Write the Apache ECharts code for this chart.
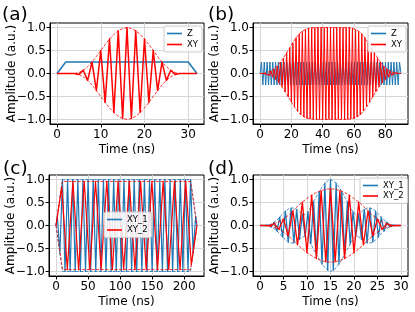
<!DOCTYPE html>
<html><head><meta charset="utf-8">
<script src="https://cdn.jsdelivr.net/npm/echarts@6/dist/echarts.min.js"></script>
<style>html,body{margin:0;padding:0;background:#fff}#c{width:415px;height:312px}</style>
</head><body><div id="c"></div>
<script>
// ---------- Panel (a) ----------
const aZTime = [0, 2, 30, 32];
const aZ = [0, 0.25, 0.25, 0];
const aXYTime = [0,1,2,3,4,5,6,7,8,9,10,11,12,13,14,15,16,17,18,19,20,21,22,23,24,25,26,27,28,29,30,31,32];
const aXY = [0,0,0,0,0,-0.02,0.07,-0.15,0.25,-0.37,0.5,-0.63,0.75,-0.85,0.93,-0.98,1.0,-0.98,0.93,-0.85,0.75,-0.63,0.5,-0.37,0.25,-0.15,0.07,-0.02,0,0,0,0,0];
const aEnvTime = [4,5,6,7,8,9,10,11,12,13,14,15,16,17,18,19,20,21,22,23,24,25,26,27,28];
const aEnvUp = [0,0.02,0.07,0.15,0.25,0.37,0.5,0.63,0.75,0.85,0.93,0.98,1.0,0.98,0.93,0.85,0.75,0.63,0.5,0.37,0.25,0.15,0.07,0.02,0];
const aEnvLo = [0,-0.02,-0.07,-0.15,-0.25,-0.37,-0.5,-0.63,-0.75,-0.85,-0.93,-0.98,-1.0,-0.98,-0.93,-0.85,-0.75,-0.63,-0.5,-0.37,-0.25,-0.15,-0.07,-0.02,0];
const aXTicks = [0, 10, 20, 30];

// ---------- Panel (b) ----------
const bZTime = [0,0.9,1.8,2.7,3.6,4.5,5.4,6.3,7.2,8.1,9,9.9,10.8,11.7,12.6,13.5,14.4,15.3,16.2,17.1,18,18.9,19.8,20.7,21.6,22.5,23.4,24.3,25.2,26.1,27,27.9,28.8,29.7,30.6,31.5,32.4,33.3,34.2,35.1,36,36.9,37.8,38.7,39.6,40.5,41.4,42.3,43.2,44.1,45,45.9,46.8,47.7,48.6,49.5,50.4,51.3,52.2,53.1,54,54.9,55.8,56.7,57.6,58.5,59.4,60.3,61.2,62.1,63,63.9,64.8,65.7,66.6,67.5,68.4,69.3,70.2,71.1,72,72.9,73.8,74.7,75.6,76.5,77.4,78.3,79.2,80.1,81,81.9,82.8,83.7,84.6,85.5,86.4,87.3,88.2,89.1,90];
const bZ = [0,0.25,-0.25,0.25,-0.25,0.25,-0.25,0.25,-0.25,0.25,-0.25,0.25,-0.25,0.25,-0.25,0.25,-0.25,0.25,-0.25,0.25,-0.25,0.25,-0.25,0.25,-0.25,0.25,-0.25,0.25,-0.25,0.25,-0.25,0.25,-0.25,0.25,-0.25,0.25,-0.25,0.25,-0.25,0.25,-0.25,0.25,-0.25,0.25,-0.25,0.25,-0.25,0.25,-0.25,0.25,-0.25,0.25,-0.25,0.25,-0.25,0.25,-0.25,0.25,-0.25,0.25,-0.25,0.25,-0.25,0.25,-0.25,0.25,-0.25,0.25,-0.25,0.25,-0.25,0.25,-0.25,0.25,-0.25,0.25,-0.25,0.25,-0.25,0.25,-0.25,0.25,-0.25,0.25,-0.25,0.25,-0.25,0.25,-0.25,0.25,-0.25,0.25,-0.25,0.25,-0.25,0.25,-0.25,0.25,-0.25,0.25,0];
const bXYTime = [0,1,2,3,4,5,6,7,8,9,10,11,12,13,14,15,16,17,18,19,20,21,22,23,24,25,26,27,28,29,30,31,32,33,34,35,36,37,38,39,40,41,42,43,44,45,46,47,48,49,50,51,52,53,54,55,56,57,58,59,60,61,62,63,64,65,66,67,68,69,70,71,72,73,74,75,76,77,78,79,80,81,82,83,84,85,86,87,88,89,90];
const bXY = [0,0,0,0.01,-0.01,0.02,-0.04,0.055,-0.075,0.1,-0.13,0.16,-0.2,0.245,-0.29,0.34,-0.4,0.45,-0.51,0.56,-0.62,0.67,-0.73,0.78,-0.82,0.86,-0.9,0.92,-0.95,0.96,-0.98,0.99,-0.99,1,-1,1,-1,1,-1,1,-1,1,-1,1,-1,1,-1,1,-1,1,-1,1,-1,1,-1,1,-1,1,-0.99,0.99,-0.98,0.96,-0.95,0.92,-0.9,0.86,-0.82,0.78,-0.73,0.67,-0.62,0.56,-0.51,0.45,-0.4,0.34,-0.29,0.245,-0.2,0.16,-0.13,0.1,-0.075,0.055,-0.04,0.02,-0.01,0.01,0,0,0];
const bEnvTime = [2,5,8,11,14,17,20,23,26,29,32,35,45,55,58,61,64,67,70,73,76,79,82,85,88];
const bEnvUp = [0,0.025,0.075,0.16,0.29,0.45,0.62,0.78,0.9,0.96,0.99,1.0,1.0,1.0,0.99,0.96,0.9,0.78,0.62,0.45,0.29,0.16,0.075,0.025,0];
const bEnvLo = [0,-0.025,-0.075,-0.16,-0.29,-0.45,-0.62,-0.78,-0.9,-0.96,-0.99,-1.0,-1.0,-1.0,-0.99,-0.96,-0.9,-0.78,-0.62,-0.45,-0.29,-0.16,-0.075,-0.025,0];
const bXTicks = [0, 20, 40, 60, 80];

// ---------- Panel (c) ----------
const cXY1Time = [0,2,6,10,14,18,22,26,30,34,38,42,46,50,54,58,62,66,70,74,78,82,86,90,94,98,102,106,110,114,118,122,126,130,134,138,142,146,150,154,158,162,166,170,174,178,182,186,190,194,198,202,206,210,214,218,220];
const cXY1 = [0,0.2,-0.6,1,-1,1,-1,1,-1,1,-1,1,-1,1,-1,1,-1,1,-1,1,-1,1,-1,1,-1,1,-1,1,-1,1,-1,1,-1,1,-1,1,-1,1,-1,1,-1,1,-1,1,-1,1,-1,1,-1,1,-1,1,-1,1,-0.6,0.2,0];
const cXY2Time = [0,8.8,17.6,26.4,35.2,44,52.8,61.6,70.4,79.2,88,96.8,105.6,114.4,123.2,132,140.8,149.6,158.4,167.2,176,184.8,193.6,202.4,211.2,220];
const cXY2 = [0,0.85,-0.96,0.96,-0.96,0.96,-0.96,0.96,-0.96,0.96,-0.96,0.96,-0.96,0.96,-0.96,0.96,-0.96,0.96,-0.96,0.96,-0.96,0.96,-0.96,0.96,-0.85,0];
const cEnvTime = [0, 10, 210, 220];
const cEnv1Up = [0, 1, 1, 0];
const cEnv1Lo = [0, -1, -1, 0];
const cEnv2Up = [0, 0.96, 0.96, 0];
const cEnv2Lo = [0, -0.96, -0.96, 0];
const cXTicks = [0, 50, 100, 150, 200];

// ---------- Panel (d) ----------
const dXY1Time = [0,0.6,1.2,1.8,2.4,3,3.6,4.2,4.8,5.4,6,6.6,7.2,7.8,8.4,9,9.6,10.2,10.8,11.4,12,12.6,13.2,13.8,14.4,15,15.6,16.2,16.8,17.4,18,18.6,19.2,19.8,20.4,21,21.6,22.2,22.8,23.4,24,24.6,25.2,25.8,26.4,27,27.6,28.2,28.8,29.4,30];
const dXY1 = [0,0,0,0.01,-0.03,0.07,-0.12,0.18,-0.25,0.31,-0.36,0.38,-0.38,0.35,-0.3,0.25,-0.24,0.3,-0.4,0.52,-0.63,0.74,-0.84,0.92,-0.97,1.0,-0.97,0.92,-0.84,0.74,-0.63,0.52,-0.4,0.3,-0.24,0.25,-0.3,0.35,-0.38,0.38,-0.36,0.31,-0.25,0.18,-0.12,0.07,-0.03,0.01,0,0,0];
const dEnv1Up = [0,0,0,0.01,0.03,0.07,0.12,0.18,0.25,0.31,0.36,0.38,0.38,0.35,0.3,0.25,0.24,0.3,0.4,0.52,0.63,0.74,0.84,0.92,0.97,1.0,0.97,0.92,0.84,0.74,0.63,0.52,0.4,0.3,0.24,0.25,0.3,0.35,0.38,0.38,0.36,0.31,0.25,0.18,0.12,0.07,0.03,0.01,0,0,0];
const dEnv1Lo = [0,0,0,-0.01,-0.03,-0.07,-0.12,-0.18,-0.25,-0.31,-0.36,-0.38,-0.38,-0.35,-0.3,-0.25,-0.24,-0.3,-0.4,-0.52,-0.63,-0.74,-0.84,-0.92,-0.97,-1.0,-0.97,-0.92,-0.84,-0.74,-0.63,-0.52,-0.4,-0.3,-0.24,-0.25,-0.3,-0.35,-0.38,-0.38,-0.36,-0.31,-0.25,-0.18,-0.12,-0.07,-0.03,-0.01,0,0,0];
const dXY2Time = [0,1,2,3,4,5,6,7,8,9,10,11,12,13,14,15,16,17,18,19,20,21,22,23,24,25,26,27,28,29,30];
const dXY2 = [0,0,-0.01,0.04,-0.08,0.14,-0.22,0.32,-0.42,0.51,-0.59,0.66,-0.72,0.76,-0.79,0.8,-0.79,0.76,-0.72,0.66,-0.59,0.51,-0.42,0.32,-0.22,0.14,-0.08,0.04,-0.01,0,0];
const dEnv2Up = [0,0,0.01,0.04,0.08,0.14,0.22,0.32,0.42,0.51,0.59,0.66,0.72,0.76,0.79,0.8,0.79,0.76,0.72,0.66,0.59,0.51,0.42,0.32,0.22,0.14,0.08,0.04,0.01,0,0];
const dEnv2Lo = [0,0,-0.01,-0.04,-0.08,-0.14,-0.22,-0.32,-0.42,-0.51,-0.59,-0.66,-0.72,-0.76,-0.79,-0.8,-0.79,-0.76,-0.72,-0.66,-0.59,-0.51,-0.42,-0.32,-0.22,-0.14,-0.08,-0.04,-0.01,0,0];
const dXTicks = [0, 5, 10, 15, 20, 25, 30];

const yTicks = [-1, -0.5, 0, 0.5, 1];

// ---------- build ----------
const BLUE = '#1f77b4', RED = '#ff0000';
const FONT = 'DejaVu Sans';
const pts = (xs, ys) => xs.map((x, i) => [x, ys[i]]);

const grids = [
  {left: 50, top: 23, width: 154, height: 101},
  {left: 253, top: 23, width: 155, height: 101},
  {left: 49, top: 175, width: 155, height: 101},
  {left: 253, top: 175, width: 155, height: 101}
].map(g => Object.assign(g, {show: true, borderColor: '#000', borderWidth: 1, backgroundColor: '#fff', containLabel: false}));

function xAx(gi, min, max, ticks) {
  return {
    type: 'value', gridIndex: gi, min: min, max: max,
    axisLine: {show: true, onZero: false, lineStyle: {color: '#000', width: 1}},
    axisTick: {show: true, length: 3.5, customValues: ticks, lineStyle: {color: '#000', width: 1}},
    axisLabel: {customValues: ticks, color: '#000', fontSize: 12, fontFamily: FONT, margin: 5,
                formatter: v => String(v)},
    splitLine: {show: true, lineStyle: {color: '#d6d6d6', width: 1}},
    name: 'Time (ns)', nameLocation: 'middle', nameGap: 20, nameMoveOverlap: false,
    nameTextStyle: {color: '#000', fontSize: 12, fontFamily: FONT, verticalAlign: 'top'}
  };
}
function yAx(gi) {
  return {
    type: 'value', gridIndex: gi, min: -1.1, max: 1.1,
    axisLine: {show: true, onZero: false, lineStyle: {color: '#000', width: 1}},
    axisTick: {show: true, length: 3.5, customValues: yTicks, lineStyle: {color: '#000', width: 1}},
    axisLabel: {customValues: yTicks, color: '#000', fontSize: 12, fontFamily: FONT, margin: 4,
                formatter: v => (v < 0 ? '\u2212' : '') + Math.abs(v).toFixed(1)},
    splitLine: {show: true, lineStyle: {color: '#d6d6d6', width: 1}},
    name: 'Amplitude (a.u.)', nameLocation: 'middle', nameGap: 32, nameRotate: 90, nameMoveOverlap: false,
    nameTextStyle: {color: '#000', fontSize: 12, fontFamily: FONT}
  };
}

function line(name, gi, xs, ys, color, width, dashed) {
  return {
    type: 'line', name: name, xAxisIndex: gi, yAxisIndex: gi,
    data: pts(xs, ys), symbol: 'none', showSymbol: false, color: color,
    lineStyle: dashed ? {color: color, width: 0.8, type: [3, 1.6]} : {color: color, width: width, join: 'round'},
    animation: false, silent: true
  };
}

function legend(left, top, names, gap) {
  return {
    left: left, top: top, orient: 'vertical', data: names, icon: 'rect',
    itemWidth: 15, itemHeight: 1.6, itemGap: gap, selectedMode: false,
    textStyle: {fontSize: 8.5, color: '#000', fontFamily: FONT},
    backgroundColor: 'rgba(255,255,255,0.85)', borderColor: '#cccccc', borderWidth: 1,
    borderRadius: 2, padding: [3, 4, 3, 3]
  };
}

function panelTitle(text, left, top) {
  return {text: text, left: left, top: top, padding: 0,
          textStyle: {fontSize: 18.5, fontWeight: 'normal', color: '#000', fontFamily: FONT}};
}

const option = {
  animation: false,
  backgroundColor: '#fff',
  title: [panelTitle('(a)', 2, 6), panelTitle('(b)', 208, 6), panelTitle('(c)', 3, 160), panelTitle('(d)', 208, 160)],
  grid: grids,
  xAxis: [xAx(0, -1.6, 33.6, aXTicks), xAx(1, -4.5, 94.5, bXTicks), xAx(2, -11, 231, cXTicks), xAx(3, -1.5, 31.5, dXTicks)],
  yAxis: [yAx(0), yAx(1), yAx(2), yAx(3)],
  legend: [
    legend(164, 26, ['Z', 'XY'], 2),
    legend(368, 26, ['Z', 'XY'], 2),
    legend(104, 212, ['XY_1', 'XY_2'], 1.5),
    legend(360, 178, ['XY_1', 'XY_2'], 1.5)
  ],
  series: [
    line('Z', 0, aZTime, aZ, BLUE, 1.5),
    line('XY', 0, aXYTime, aXY, RED, 1.5),
    line('envA+', 0, aEnvTime, aEnvUp, RED, 0.8, true),
    line('envA-', 0, aEnvTime, aEnvLo, RED, 0.8, true),

    line('Z', 1, bZTime, bZ, BLUE, 1.0),
    line('XY', 1, bXYTime, bXY, RED, 1.0),
    line('envB+', 1, bEnvTime, bEnvUp, RED, 0.8, true),
    line('envB-', 1, bEnvTime, bEnvLo, RED, 0.8, true),

    line('XY_1', 2, cXY1Time, cXY1, BLUE, 1.2),
    line('envC1+', 2, cEnvTime, cEnv1Up, BLUE, 0.8, true),
    line('envC1-', 2, cEnvTime, cEnv1Lo, BLUE, 0.8, true),
    line('XY_2', 2, cXY2Time, cXY2, RED, 1.2),
    line('envC2+', 2, cEnvTime, cEnv2Up, RED, 0.8, true),
    line('envC2-', 2, cEnvTime, cEnv2Lo, RED, 0.8, true),

    line('XY_1', 3, dXY1Time, dXY1, BLUE, 1.3),
    line('envD1+', 3, dXY1Time, dEnv1Up, BLUE, 0.8, true),
    line('envD1-', 3, dXY1Time, dEnv1Lo, BLUE, 0.8, true),
    line('XY_2', 3, dXY2Time, dXY2, RED, 1.3),
    line('envD2+', 3, dXY2Time, dEnv2Up, RED, 0.8, true),
    line('envD2-', 3, dXY2Time, dEnv2Lo, RED, 0.8, true)
  ]
};

const chart = echarts.init(document.getElementById('c'), null, {renderer: 'canvas'});
chart.setOption(option);
</script></body></html>
